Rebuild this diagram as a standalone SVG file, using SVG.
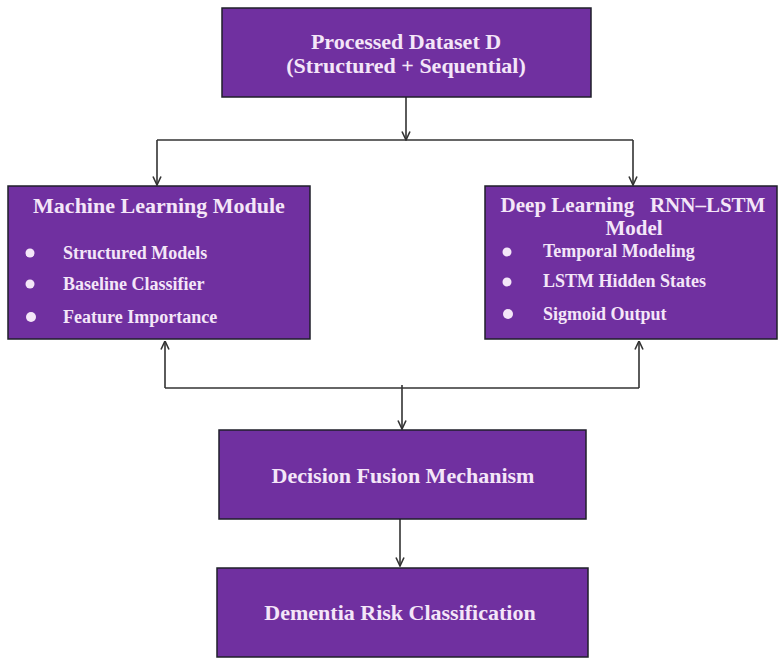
<svg xmlns="http://www.w3.org/2000/svg" width="780" height="659" viewBox="0 0 780 659">
<style>
.box{fill:#7030a0;stroke:#1f1f2a;stroke-width:1.5}
.t{font-family:"Liberation Serif","Times New Roman",serif;font-weight:bold;fill:#f4e6f8}
.h{font-size:22px;text-anchor:middle}
.h2{font-size:21px;text-anchor:middle}
.b{font-size:18px}
.dot{fill:#f4e6f8}
.c{fill:none;stroke:#333;stroke-width:1.6}
</style>
<defs>
<marker id="ah" viewBox="0 0 10 10" refX="9.5" refY="5" markerWidth="10" markerHeight="10" markerUnits="userSpaceOnUse" orient="auto">
<path d="M1,1 L9.5,5 L1,9" fill="none" stroke="#333" stroke-width="1.6"/>
</marker>
</defs>
<rect width="780" height="659" fill="#ffffff"/>
<g id="connectors">
<path class="c" d="M406,97 V140" marker-end="url(#ah)"/>
<path class="c" d="M157,140 H633"/>
<path class="c" d="M157,140 V185" marker-end="url(#ah)"/>
<path class="c" d="M633,140 V185" marker-end="url(#ah)"/>
<path class="c" d="M165,388 H639"/>
<path class="c" d="M165,388 V341" marker-end="url(#ah)"/>
<path class="c" d="M639,388 V341" marker-end="url(#ah)"/>
<path class="c" d="M402,385 V429" marker-end="url(#ah)"/>
<path class="c" d="M400,519 V566" marker-end="url(#ah)"/>
</g>
<g id="dataset">
<rect class="box" x="222" y="8" width="369" height="89"/>
<text class="t h" x="406" y="49">Processed Dataset D</text>
<text class="t h" x="406" y="73">(Structured + Sequential)</text>
</g>
<g id="ml">
<rect class="box" x="8" y="186" width="302" height="153"/>
<text class="t h" x="159" y="213">Machine Learning Module</text>
<circle class="dot" cx="30" cy="253" r="4.5"/>
<text class="t b" x="63" y="259">Structured Models</text>
<circle class="dot" cx="30" cy="284" r="4.5"/>
<text class="t b" x="63" y="290">Baseline Classifier</text>
<circle class="dot" cx="31" cy="317" r="5"/>
<text class="t b" x="63" y="323">Feature Importance</text>
</g>
<g id="dl">
<rect class="box" x="485" y="186" width="292" height="153"/>
<text class="t h2" x="633" y="212" xml:space="preserve">Deep Learning   RNN–LSTM</text>
<text class="t h2" x="634" y="235">Model</text>
<circle class="dot" cx="507" cy="252" r="4.5"/>
<text class="t b" x="543" y="257">Temporal Modeling</text>
<circle class="dot" cx="507" cy="282" r="4.5"/>
<text class="t b" x="543" y="287">LSTM Hidden States</text>
<circle class="dot" cx="508" cy="314" r="5"/>
<text class="t b" x="543" y="320">Sigmoid Output</text>
</g>
<g id="fusion">
<rect class="box" x="219" y="430" width="367" height="89"/>
<text class="t h" x="403" y="483">Decision Fusion Mechanism</text>
</g>
<g id="risk">
<rect class="box" x="217" y="568" width="371" height="89"/>
<text class="t h" x="400" y="620">Dementia Risk Classification</text>
</g>
</svg>
